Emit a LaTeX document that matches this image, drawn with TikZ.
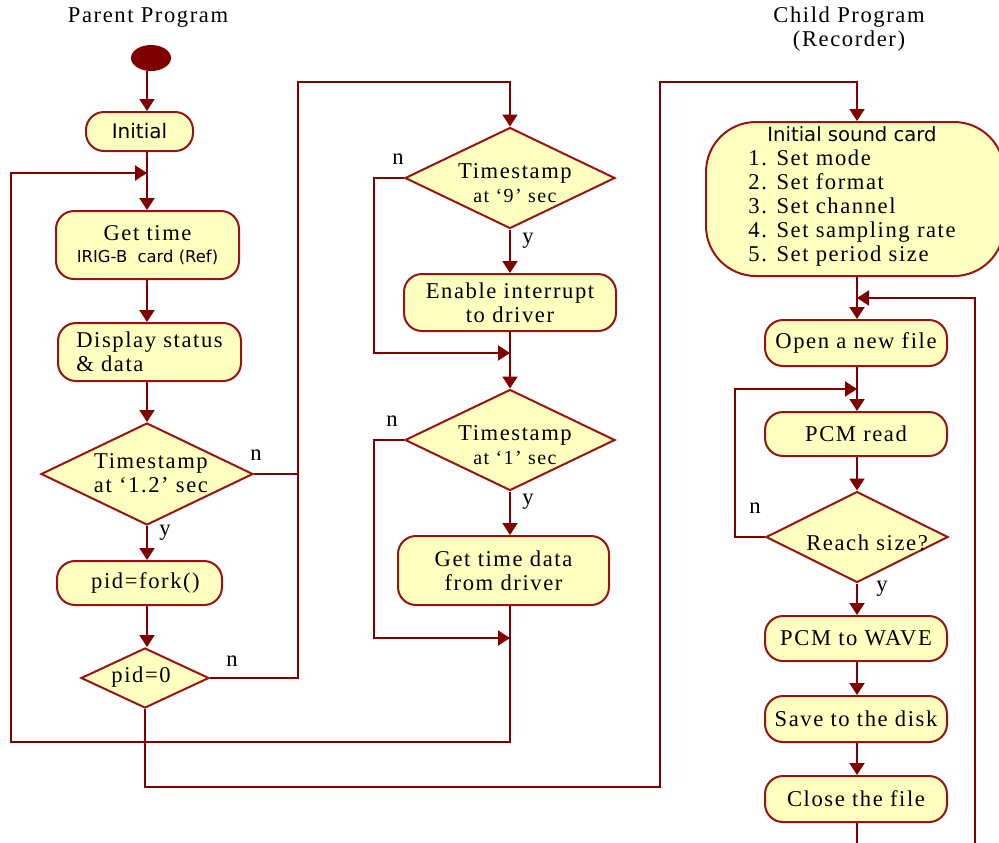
\documentclass[tikz,border=0pt]{standalone}
\usepackage{fontspec}
\setmainfont{Liberation Serif}[LetterSpace=7]
\newfontfamily\sansf{DejaVu Sans}
\usetikzlibrary{shapes.geometric,arrows.meta}
\definecolor{wire}{RGB}{128,0,0}
\definecolor{rim}{RGB}{150,20,20}
\definecolor{cream}{RGB}{255,255,192}

\begin{document}
\begin{tikzpicture}[x=0.5pt,y=-0.5pt,
  conn/.style={draw=wire, line width=1pt},
  arr/.style={conn, -{Triangle[width=7.5pt,length=6pt]}},
  box/.style={draw=rim, fill=cream, line width=1pt, rounded corners=9pt,
    inner sep=0pt, align=center, font=\fontsize{11.3}{12}\selectfont},
  dia/.style={diamond, draw=rim, fill=cream, line width=1pt, inner sep=0pt},
  txt/.style={align=center, inner sep=0pt, font=\fontsize{11.3}{12}\selectfont},
  yn/.style={inner sep=0pt, font=\fontsize{11.3}{12}\selectfont},
]
\useasboundingbox (0,0) rectangle (999,842);

% column guides and bends of the connectors
\coordinate (cA) at (147,0);
\coordinate (cM) at (510,0);
\coordinate (cR) at (857,0);
\coordinate (bus) at (298,82);
\coordinate (lp9) at (374,353);
\coordinate (lp1) at (374,638);
\coordinate (lpB) at (11,742);
\coordinate (lpT) at (11,173);
\coordinate (chB) at (660,787);
\coordinate (chT) at (660,82);
\coordinate (rT) at (975,298);
\coordinate (rB) at (975,850);
\coordinate (rl) at (735,389);
\coordinate (tail) at (857,850);

% titles
\node[txt] (ttlP) at (148,18) {Parent Program};
\node[txt] (ttlC) at (849,29) {Child Program\\(Recorder)};

% parent program
\node[ellipse, fill=wire, minimum width=20pt, minimum height=13pt, inner sep=0pt] (start) at (151,58) {};
\node[box, minimum width=53.5pt, minimum height=19.5pt, font=\sansf\fontsize{10}{12}\selectfont] (init) at (139.5,131.5) {Initial};
\node[box, minimum width=91.5pt, minimum height=34pt] (gettime) at (147.5,245)
  {Get time\\[-1pt]{\sansf\fontsize{8.2}{10}\selectfont IRIG-B\ \ card (Ref)}};
\node[box, minimum width=91.5pt, minimum height=29pt, align=left] (disp) at (149.5,352) {Display status\\\& data};
\node[dia, minimum width=106pt, minimum height=51pt] (d1) at (147,474) {};
\node[txt] (d1t) at (151,473) {Timestamp\\at ‘1.2’ sec};
\node[box, minimum width=82.5pt, minimum height=22pt] (fork) at (139.5,583) {\hspace*{6pt}pid=fork()};
\node[dia, minimum width=64pt, minimum height=30pt] (d2) at (145,678) {};
\node[txt] (d2t) at (141,677) {pid=0};

% timestamp handling
\node[dia, minimum width=105pt, minimum height=50.5pt] (d3) at (510,178) {};
\node[txt] (d3t) at (515,183) {Timestamp\\{\fontsize{10}{12}\selectfont at ‘9’ sec}};
\node[box, minimum width=106pt, minimum height=28.5pt] (enable) at (510,302.5) {Enable interrupt\\to driver};
\node[dia, minimum width=105pt, minimum height=50.5pt] (d4) at (510,440) {};
\node[txt] (d4t) at (515,445) {Timestamp\\{\fontsize{10}{12}\selectfont at ‘1’ sec}};
\node[box, minimum width=105.5pt, minimum height=34.5pt] (gtd) at (503.5,570.5) {Get time data\\from driver};

% child program
\node[box, rounded corners=25pt, minimum width=149pt, minimum height=77pt] (isc) at (855,199) {};
\node[txt] (isct) at (852,197) {\begin{tabular}{@{}l@{}}
  \multicolumn{1}{@{}c@{}}{\sansf\fontsize{9.8}{12}\selectfont Initial sound card}\\
  1. Set mode\\ 2. Set format\\ 3. Set channel\\ 4. Set sampling rate\\ 5. Set period size
  \end{tabular}};
\node[box, minimum width=91pt, minimum height=23pt] (open) at (856,343) {Open a new file};
\node[box, minimum width=91pt, minimum height=22pt] (pcmread) at (856,434) {PCM read};
\node[dia, minimum width=91pt, minimum height=45.5pt] (reach) at (857,537) {};
\node[txt] (reacht) at (867,543) {Reach size?};
\node[box, minimum width=91pt, minimum height=22.5pt] (wave) at (856,638.5) {PCM to WAVE};
\node[box, minimum width=91pt, minimum height=23pt] (save) at (856,719) {Save to the disk};
\node[box, minimum width=91pt, minimum height=23pt] (close) at (856,799) {Close the file};

% branch labels
\node[yn] (n1) at (256,455) {n};
\node[yn] (y1) at (165,533) {y};
\node[yn] (n2) at (232,661) {n};
\node[yn] (n3) at (398,159) {n};
\node[yn] (y3) at (528,241) {y};
\node[yn] (n4) at (392,421) {n};
\node[yn] (y4) at (528,502) {y};
\node[yn] (n5) at (755,508) {n};
\node[yn] (y5) at (882,589) {y};

% parent connectors
\draw[arr] (start.south -| cA) -- (init.north -| cA);
\draw[arr] (init.south -| cA) -- (gettime.north -| cA);
\draw[arr] (gettime.south -| cA) -- (disp.north -| cA);
\draw[arr] (disp.south -| cA) -- (d1.north);
\draw[arr] (d1.south) -- (fork.north -| d1.south);
\draw[arr] (fork.south -| cA) -- (d2.north -| cA);
\draw[conn] (d1.east) -- (d1.east -| bus);
\draw[arr] (d2.east) -- (d2.east -| bus) -- (bus) -- (bus -| d3.north) -- (d3.north);

% timestamp connectors
\draw[arr] (d3.west) -| (lp9) -- (lp9 -| cM);
\draw[arr] (d3.south) -- (enable.north -| d3.south);
\draw[arr] (enable.south -| cM) -- (d4.north);
\draw[arr] (d4.west) -| (lp1) -- (lp1 -| cM);
\draw[arr] (d4.south) -- (gtd.north -| d4.south);
\draw[arr] (gtd.south -| cM) |- (lpB) -- (lpT) -- (lpT -| cA);

% fork to the child program
\draw[arr] (d2.south) |- (chB) -- (chT) -- (chT -| cR) -- (isc.north -| cR);

% child connectors
\draw[arr] (isc.south -| cR) -- (open.north -| cR);
\draw[arr] (rB) -- (rT) -- (rT -| cR);
\draw[arr] (open.south -| cR) -- (pcmread.north -| cR);
\draw[arr] (pcmread.south -| cR) -- (reach.north);
\draw[arr] (reach.west) -| (rl) -- (rl -| cR);
\draw[arr] (reach.south) -- (wave.north -| cR);
\draw[arr] (wave.south -| cR) -- (save.north -| cR);
\draw[arr] (save.south -| cR) -- (close.north -| cR);
\draw[conn] (close.south -| cR) -- (tail);
\end{tikzpicture}
\end{document}
